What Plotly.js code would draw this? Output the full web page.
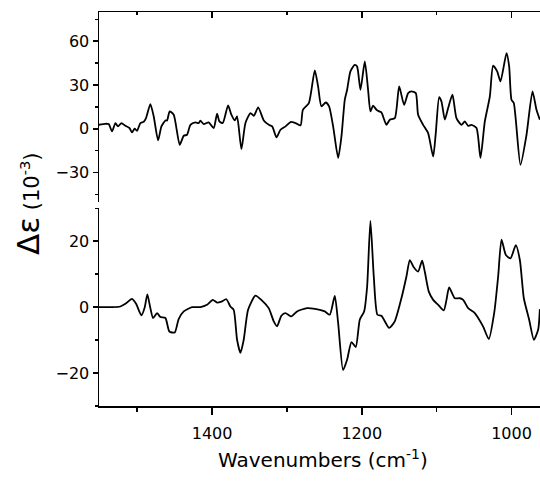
<!DOCTYPE html>
<html>
<head>
<meta charset="utf-8">
<script src="https://cdn.plot.ly/plotly-3.0.1.min.js"></script>
<style>html,body{margin:0;padding:0;background:#fff;}</style>
</head>
<body>
<div id="chart" style="width:540px;height:481px;"></div>
<script>
// Top spectrum (wavenumber, delta epsilon x1e-3)
var topWavenumbers = [1551.4,1542.5,1538,1533.6,1529,1525.6,1521,1515.8,1510.4,1506.9,1503.3,1500.2,1495.7,1491.3,1488.2,1482.4,1477.9,1472.1,1467.6,1462.3,1460.1,1456.6,1451.2,1443.2,1437.8,1433.4,1428.9,1422.2,1417.8,1415.6,1411.1,1404.5,1397.8,1393.3,1390.2,1385.7,1378.6,1374.2,1369.7,1366.6,1360.8,1355.4,1348.7,1344.2,1338.4,1330.9,1324.2,1319.7,1313.9,1308.6,1301.9,1295.2,1288.5,1281.8,1278.7,1270.7,1262.8,1258.4,1253.9,1248.1,1243.7,1238.3,1231.6,1227.2,1222.7,1219.6,1215.2,1209.4,1206.3,1201.8,1196,1191.6,1188.5,1184.9,1180.4,1176.9,1173.8,1167.1,1162.6,1155.9,1150.1,1143.5,1138.1,1133.7,1127.9,1124.8,1118.1,1111.4,1104.7,1101.2,1096.7,1093.6,1089.1,1084.7,1078.9,1073.6,1066.9,1062.4,1058,1053.5,1046.8,1041.5,1035.7,1029,1024.6,1019.2,1014.8,1006.7,1003.2,1000.1,997,988.1,980,972,966.7,962.2];
var topValues = [2.7,3.4,3.2,-1.8,3.9,1.6,3.9,2,0.5,-2.5,0,-1.4,3.9,4.8,7.3,16.9,8.4,-8,1.6,5.7,5.7,11.9,9.6,-11,-4.8,-4.1,2.7,4.3,3.9,5.5,3.2,4.3,0.5,10.3,5,3.9,16,9.6,5.7,8.4,-13.9,3.9,10.7,8.9,14.6,5.7,2.7,1.6,-5.9,-0.7,1.6,4.6,3.9,2.3,13,17.6,40,29,15.3,18,15.3,1.6,-20,-5.3,19.9,26.7,39.3,43.8,42.7,26.7,46.1,26.7,11.9,15.8,13,11.9,11.2,2.7,6.2,7.3,29,16.4,24.4,25.6,24.4,9.6,2.7,-3,-19,-3,21.7,18.7,6.2,14.2,23.3,7.3,2.7,5,2,2.7,0.5,-20,5,22.1,43.2,39.3,32.4,51.8,42.7,19.9,17.6,-24.7,-4.1,25.6,13,6.2];

// Bottom spectrum
var bottomWavenumbers = [1551.4,1533.6,1522.5,1515.8,1506.9,1501.5,1494.4,1489.9,1486.4,1482.4,1478.8,1473.5,1469,1462.3,1457,1449.9,1444.6,1437.8,1426.7,1415.6,1406.7,1399.1,1393.3,1387.5,1380.9,1375.5,1371.1,1366.6,1362.1,1357.7,1351.9,1342.1,1333.2,1324.3,1317.6,1313.2,1307.4,1302.1,1294,1286.5,1273.1,1256.1,1249.5,1242.8,1236.1,1231.6,1225,1219.6,1213.8,1208.1,1202.7,1196.9,1192.9,1188.5,1184,1179.1,1173.8,1163.5,1156,1147.1,1140.4,1135.9,1130.6,1124.8,1119.4,1115.9,1110.5,1104.7,1098,1090.5,1086.9,1083.4,1075.8,1069.1,1064.6,1058,1049.1,1044.6,1037.9,1030.4,1023.2,1017.9,1013.4,1007.6,1001.4,994.3,988.9,983.6,976.5,970.2,964.4,962.2];
var bottomValues = [0,0,0.2,1,2.5,1,-2.5,0,3.9,-0.3,-3.3,-1.8,-3,-3.3,-7.4,-7.7,-3.6,-1.3,0,0,0.7,2.2,1.4,1.7,2.4,0.2,-0.8,-9.9,-13.9,-9.9,-0.8,3.5,2,-0.3,-4.3,-5.8,-2.6,-1.8,-2.8,-1.3,-0.3,-0.8,-1.3,-2.3,3.4,-4.8,-19.1,-15.9,-10.6,-12.1,-3.8,-1.3,6.2,26.2,9.3,-2.3,-2.6,-6.3,-4.3,2.7,9.3,14.3,12.1,10.8,14.1,10.8,4.7,2.2,0.7,-1,2.2,6,2.7,2.7,2.2,-0.3,-1.8,-3.3,-5.9,-9.7,-1.8,9.3,20.5,15.8,14.8,18.8,14.3,2.7,-3.8,-9.9,-6.8,-0.6];

var xTickVals = [1400,1200,1000];
var topYTicks = [-30,0,30,60];
var bottomYTicks = [-20,0,20];

var lineStyle = {color:'black', width:1.8, shape:'spline', smoothing:0.6};

var traces = [
  {x: topWavenumbers, y: topValues, xaxis:'x2', yaxis:'y2', mode:'lines', line: lineStyle, hoverinfo:'skip'},
  {x: bottomWavenumbers, y: bottomValues, xaxis:'x', yaxis:'y', mode:'lines', line: lineStyle, hoverinfo:'skip'}
];

var axisCommon = {showgrid:false, zeroline:false, showline:true, linecolor:'black', linewidth:1.5,
  tickcolor:'black', tickwidth:1.5};

var layout = {
  width:540, height:481,
  margin:{l:99, r:0, t:12, b:75},
  paper_bgcolor:'white', plot_bgcolor:'white',
  showlegend:false,
  font:{family:'DejaVu Sans', size:16, color:'black'},
  xaxis: Object.assign({}, axisCommon, {
    domain:[0,1], anchor:'y', range:[1551,962], autorange:false,
    tickmode:'array', tickvals:xTickVals, ticks:'outside', ticklen:7, ticklabelstandoff:5,
    minor:{tickmode:'linear', tick0:1000, dtick:100, ticks:'outside', ticklen:4, tickwidth:1.5, tickcolor:'black', showgrid:false},
    tickfont:{size:16}
  }),
  yaxis: Object.assign({}, axisCommon, {
    domain:[0,0.5018], anchor:'x', range:[-30,30], autorange:false,
    tickmode:'array', tickvals:bottomYTicks, ticks:'outside', ticklen:5,
    minor:{tickmode:'linear', tick0:0, dtick:10, ticks:'outside', ticklen:3, tickwidth:1.5, tickcolor:'black', showgrid:false},
    tickfont:{size:16}
  }),
  xaxis2: Object.assign({}, axisCommon, {
    domain:[0,1], anchor:'y2', side:'top', range:[1551,962], autorange:false,
    tickmode:'linear', tick0:1000, dtick:200, ticks:'inside', ticklen:6, showticklabels:false,
    minor:{tickmode:'linear', tick0:1000, dtick:100, ticks:'inside', ticklen:3, tickwidth:1.5, tickcolor:'black', showgrid:false}
  }),
  yaxis2: Object.assign({}, axisCommon, {
    domain:[0.5185,1], anchor:'x2', range:[-50,80], autorange:false,
    tickmode:'array', tickvals:topYTicks, ticks:'outside', ticklen:5,
    minor:{tickmode:'linear', tick0:0, dtick:15, ticks:'outside', ticklen:3, tickwidth:1.5, tickcolor:'black', showgrid:false},
    tickfont:{size:16}
  }),
  annotations:[
    {xref:'paper', yref:'paper', x:0.508, y:-0.135, xanchor:'center', yanchor:'middle', showarrow:false,
     text:'Wavenumbers (cm<sup>-1</sup>)', font:{family:'DejaVu Sans', size:20, color:'black'}},
    {xref:'paper', yref:'paper', x:-0.161, y:0.513, xanchor:'center', yanchor:'middle', showarrow:false, textangle:-90,
     text:'<span style="font-size:31px">Δε</span> (10<sup>-3</sup>)', font:{family:'DejaVu Sans', size:21, color:'black'}}
  ]
};

Plotly.newPlot('chart', traces, layout, {staticPlot:true, displayModeBar:false});
</script>
</body>
</html>
